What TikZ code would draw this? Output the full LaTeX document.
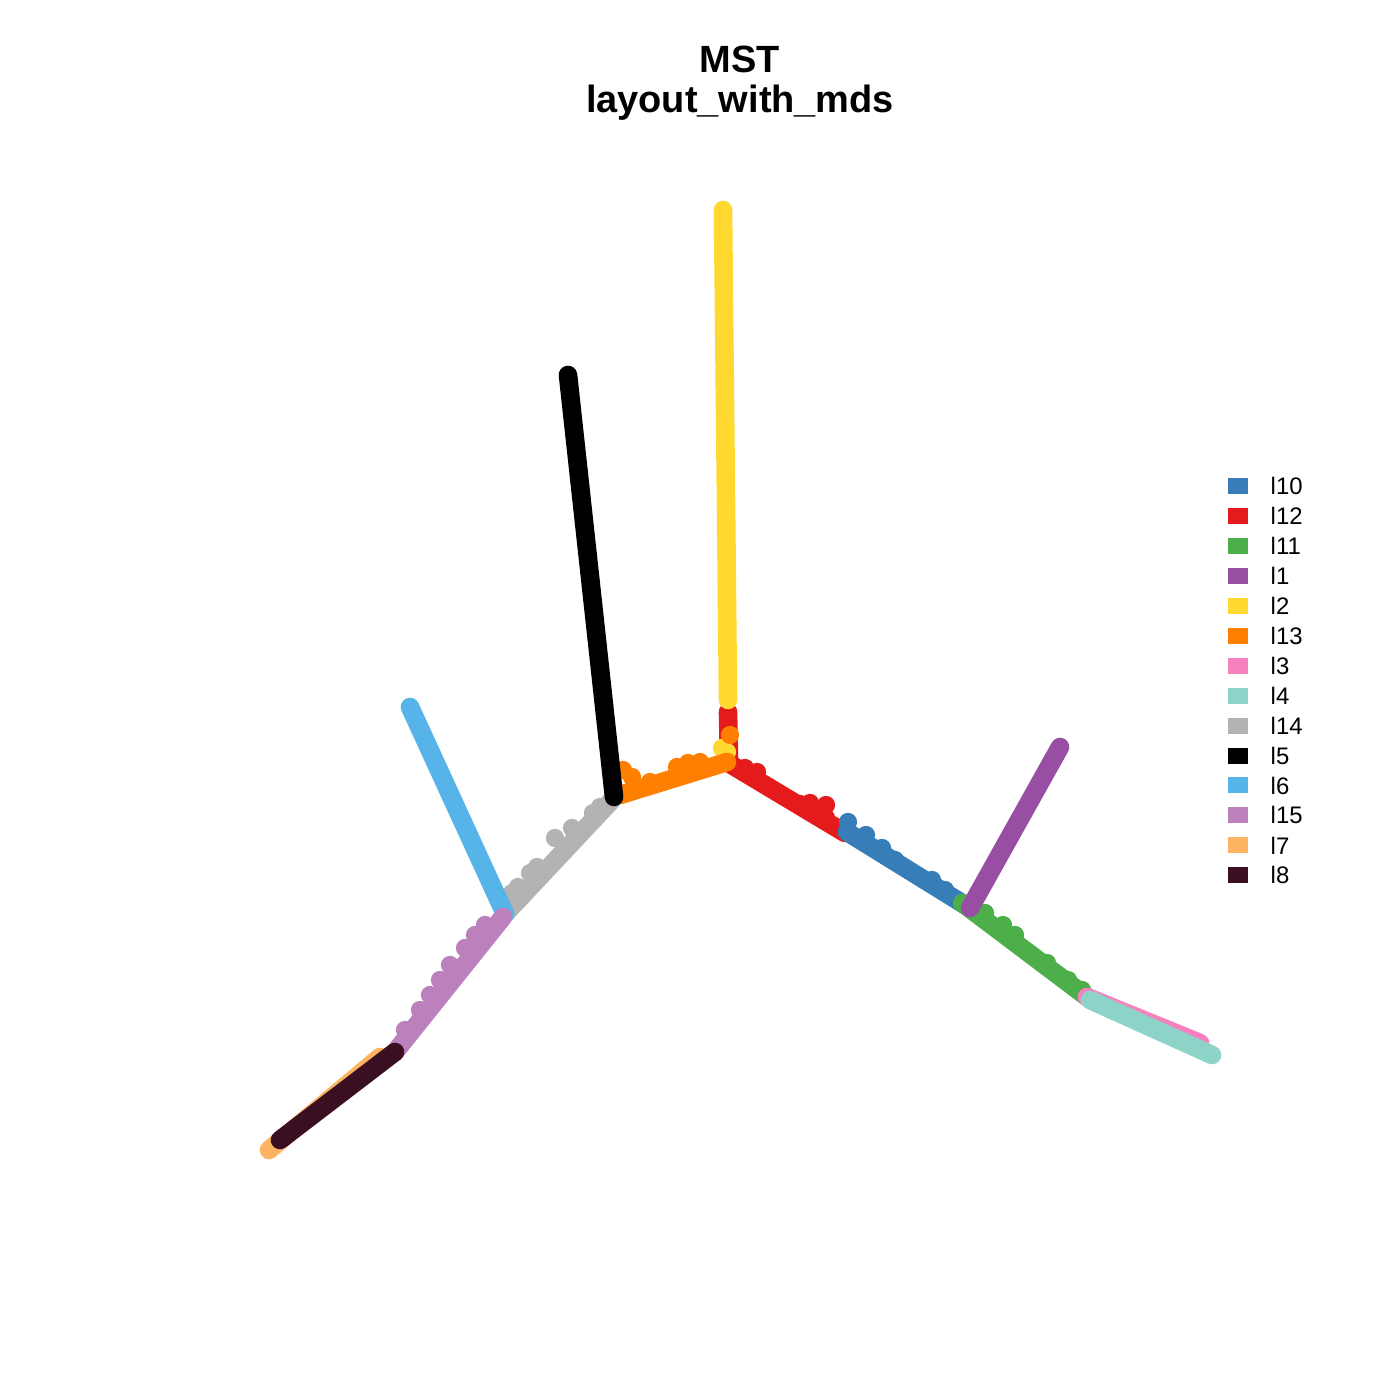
\documentclass[tikz,border=0pt]{standalone}
\usepackage{fontspec}
\setmainfont{Liberation Sans}
\usetikzlibrary{positioning}

\definecolor{l10}{HTML}{377EB8}
\definecolor{l12}{HTML}{E41A1C}
\definecolor{l11}{HTML}{4DAF4A}
\definecolor{l1}{HTML}{984EA3}
\definecolor{l2}{HTML}{FFD92F}
\definecolor{l13}{HTML}{FF7F00}
\definecolor{l3}{HTML}{F781BF}
\definecolor{l4}{HTML}{8DD3C7}
\definecolor{l14}{HTML}{B3B3B3}
\definecolor{l5}{HTML}{000000}
\definecolor{l6}{HTML}{56B4E9}
\definecolor{l15}{HTML}{BC80BD}
\definecolor{l7}{HTML}{FDB462}
\definecolor{l8}{HTML}{3A0F22}

\tikzset{
  branch/.style={line width=5.3pt,line cap=round},
  key/.style={minimum width=0.2cm,minimum height=0.16cm,inner sep=0pt},
  keylabel/.style={font=\fontsize{6.8}{8}\selectfont,anchor=west,inner sep=0pt}
}

\begin{document}
\begin{tikzpicture}[x=1cm,y=1cm]
  \useasboundingbox (0,0) rectangle (14,14);

  % title
  \node[font=\bfseries\fontsize{10.8}{11.4}\selectfont,align=center] (title) at (7.40,13.17) {MST\\layout\_with\_mds};

  % branch end points
  \coordinate (c)    at (7.30,6.36);
  \coordinate (l2a)  at (7.23,11.90);
  \coordinate (l2b)  at (7.28,7.00);
  \coordinate (l12a) at (7.28,6.88);
  \coordinate (l12b) at (8.45,5.67);
  \coordinate (l10a) at (8.47,5.68);
  \coordinate (l10b) at (9.65,4.95);
  \coordinate (l11b) at (10.87,4.03);
  \coordinate (l1b)  at (10.60,6.53);
  \coordinate (l3b)  at (12.00,3.57);
  \coordinate (l4a)  at (10.90,4.00);
  \coordinate (l4b)  at (12.12,3.45);
  \coordinate (l13b) at (6.20,6.05);
  \coordinate (l5a)  at (5.68,10.25);
  \coordinate (l5b)  at (6.14,6.03);
  \coordinate (l14a) at (6.12,6.00);
  \coordinate (l14b) at (5.05,4.86);
  \coordinate (l6a)  at (4.10,6.93);
  \coordinate (l15b) at (3.95,3.48);
  \coordinate (l7a)  at (3.80,3.43);
  \coordinate (l7b)  at (2.69,2.50);
  \coordinate (l8b)  at (2.80,2.60);

  % branches
  \draw[branch,l12] (l12a) -- (7.29,6.40) -- (c) -- (l12b);
  \foreach \p in {(7.45,6.32),(7.57,6.28),(8.00,5.96),(8.10,5.97),(8.26,5.95),(8.26,5.82)}
    \fill[l12] \p circle (2.6pt);
  \draw[branch,l10] (l10a) -- (l10b);
  \foreach \p in {(8.48,5.78),(8.66,5.65),(8.82,5.52),(8.95,5.40),(9.32,5.20),(9.45,5.10)}
    \fill[l10] \p circle (2.6pt);
  \draw[branch,l11] (l10b) -- (l11b);
  \foreach \p in {(9.62,4.97),(9.85,4.87),(10.03,4.75),(10.15,4.65),(10.47,4.37),(10.68,4.20),(10.82,4.10)}
    \fill[l11] \p circle (2.6pt);
  \draw[branch,l1] (9.70,4.92) -- (l1b);
  \draw[branch,l2] (l2a) -- (l2b);
  \fill[l2] (7.22,6.52) circle (2.6pt) (7.27,6.48) circle (2.6pt);
  \draw[branch,l13] (7.27,6.38) -- (l13b);
  \fill[l13] (7.30,6.65) circle (2.6pt);
  \foreach \p in {(6.23,6.30),(6.32,6.23),(6.50,6.18),(6.77,6.33),(6.88,6.37),(7.00,6.38)}
    \fill[l13] \p circle (2.6pt);
  \draw[branch,l3] (l11b) -- (l3b);
  \draw[branch,l4] (l4a) -- (l4b);
  \draw[branch,l14] (l14a) -- (l14b);
  \foreach \p in {(6.00,5.93),(5.93,5.87),(5.72,5.72),(5.55,5.62),(5.37,5.33),(5.30,5.27),(5.18,5.13),(5.12,5.07)}
    \fill[l14] \p circle (2.6pt);
  \draw[branch,l5] (l5a) -- (l5b);
  \fill[l5] (6.13,6.15) circle (2.6pt);
  \draw[branch,l6] (l6a) -- (l14b);
  \draw[branch,l15] (5.03,4.83) -- (l15b);
  \foreach \p in {(4.85,4.75),(4.75,4.65),(4.65,4.52),(4.50,4.35),(4.40,4.20),(4.30,4.05),(4.20,3.90),(4.05,3.70)}
    \fill[l15] \p circle (2.6pt);
  \draw[branch,l7] (l7a) -- (l7b);
  \draw[branch,l8] (l15b) -- (l8b);

  % legend
  \foreach \c [count=\i] in {l10,l12,l11,l1,l2,l13,l3,l4,l14,l5,l6,l15,l7,l8} {
    \node[key,fill=\c] (k\i) at (12.38,{9.14-0.2995*(\i-1)}) {};
    \node[keylabel] (t\i) at (12.70,{9.14-0.2995*(\i-1)}) {\c};
  }
\end{tikzpicture}
\end{document}
